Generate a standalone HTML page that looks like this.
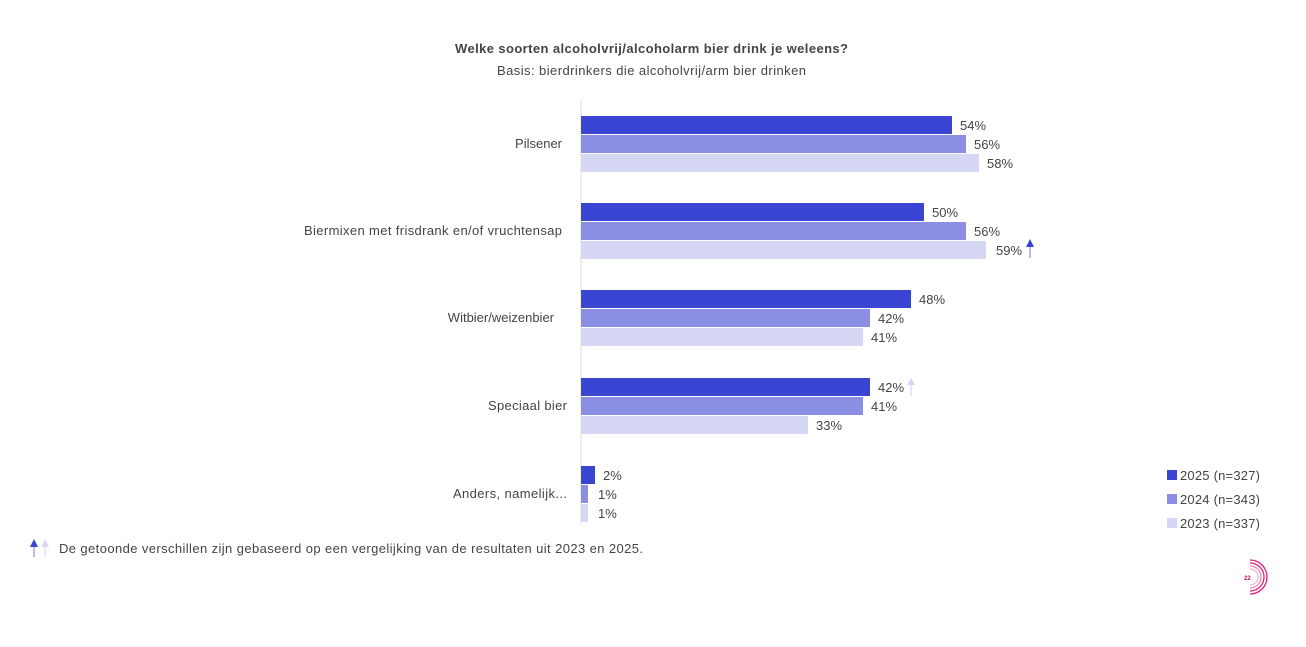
<!DOCTYPE html><html><head><meta charset="utf-8"><style>
body{margin:0;width:1306px;height:642px;background:#fff;font-family:"Liberation Sans","DejaVu Sans",sans-serif;overflow:hidden}
</style></head><body>
<svg width="1306" height="642" xmlns="http://www.w3.org/2000/svg" font-family="Liberation Sans, DejaVu Sans, sans-serif">
<text x="455" y="53" textLength="393" lengthAdjust="spacing" font-size="13" font-weight="bold" fill="#444">Welke soorten alcoholvrij/alcoholarm bier drink je weleens?</text>
<text x="497" y="75" textLength="309" lengthAdjust="spacing" font-size="13" fill="#444">Basis: bierdrinkers die alcoholvrij/arm bier drinken</text>
<line x1="581" y1="100" x2="581" y2="525" stroke="#ddd"/>
<g font-size="13" fill="#444">
<rect x="581" y="116" width="371" height="18" fill="#3a46d3"/><text x="960" y="130">54%</text>
<rect x="581" y="135" width="385" height="18" fill="#8b8fe3"/><text x="974" y="149">56%</text>
<rect x="581" y="154" width="398" height="18" fill="#d5d7f5"/><text x="987" y="168">58%</text>
<text x="562" y="148" text-anchor="end">Pilsener</text>
<rect x="581" y="203" width="343" height="18" fill="#3a46d3"/><text x="932" y="217">50%</text>
<rect x="581" y="222" width="385" height="18" fill="#8b8fe3"/><text x="974" y="236">56%</text>
<rect x="581" y="241" width="405" height="18" fill="#d5d7f5"/><text x="996" y="255">59%</text>
<text x="304" y="235" textLength="258" lengthAdjust="spacing">Biermixen met frisdrank en/of vruchtensap</text>
<rect x="581" y="290" width="330" height="18" fill="#3a46d3"/><text x="919" y="304">48%</text>
<rect x="581" y="309" width="289" height="18" fill="#8b8fe3"/><text x="878" y="323">42%</text>
<rect x="581" y="328" width="282" height="18" fill="#d5d7f5"/><text x="871" y="342">41%</text>
<text x="554" y="322" text-anchor="end">Witbier/weizenbier</text>
<rect x="581" y="378" width="289" height="18" fill="#3a46d3"/><text x="878" y="392">42%</text>
<rect x="581" y="397" width="282" height="18" fill="#8b8fe3"/><text x="871" y="411">41%</text>
<rect x="581" y="416" width="227" height="18" fill="#d5d7f5"/><text x="816" y="430">33%</text>
<text x="488" y="410" textLength="79" lengthAdjust="spacing">Speciaal bier</text>
<rect x="581" y="466" width="14" height="18" fill="#3a46d3"/><text x="603" y="480">2%</text>
<rect x="581" y="485" width="7" height="18" fill="#8b8fe3"/><text x="598" y="499">1%</text>
<rect x="581" y="504" width="7" height="18" fill="#d5d7f5"/><text x="598" y="518">1%</text>
<text x="453" y="498" textLength="114" lengthAdjust="spacing">Anders, namelijk...</text>
<rect x="1167" y="470" width="10" height="10" fill="#3a46d3"/><text x="1180" y="480" textLength="80" lengthAdjust="spacing">2025 (n=327)</text>
<rect x="1167" y="494" width="10" height="10" fill="#8b8fe3"/><text x="1180" y="504" textLength="80" lengthAdjust="spacing">2024 (n=343)</text>
<rect x="1167" y="518" width="10" height="10" fill="#d5d7f5"/><text x="1180" y="528" textLength="80" lengthAdjust="spacing">2023 (n=337)</text>
<text x="59" y="553" textLength="584" lengthAdjust="spacing">De getoonde verschillen zijn gebaseerd op een vergelijking van de resultaten uit 2023 en 2025.</text>
</g>
<g>
<line x1="1030" y1="246" x2="1030" y2="258" stroke="#8b8fe3" stroke-width="1.2"/><polygon points="1026,247 1030,239 1034,247" fill="#3a46d3"/>
<line x1="911" y1="385" x2="911" y2="396" stroke="#d5d7f5" stroke-width="1.2"/><polygon points="907,385 911,378 915,385" fill="#d5d7f5"/>
<line x1="34" y1="546" x2="34" y2="557" stroke="#8b8fe3" stroke-width="1.2"/><polygon points="30,547 34,539 38,547" fill="#3a46d3"/>
<line x1="45" y1="546" x2="45" y2="557" stroke="#d5d7f5" stroke-width="1.2"/><polygon points="41,547 45,539 49,547" fill="#d5d7f5"/>
</g>
<g fill="none" stroke="#e0207a" stroke-width="1.3">
<path d="M1250,560 a17,17 0 0 1 0,34"/><path d="M1250,563 a14,14 0 0 1 0,28"/><path d="M1250,566 a11,11 0 0 1 0,22" stroke="#f08ab5"/><path d="M1250,569 a8,8 0 0 1 0,16" stroke="#f5b5d0"/>
</g>
<text x="1244" y="580" font-size="6" font-weight="bold" fill="#c0105a">22</text>
</svg>
</body></html>
